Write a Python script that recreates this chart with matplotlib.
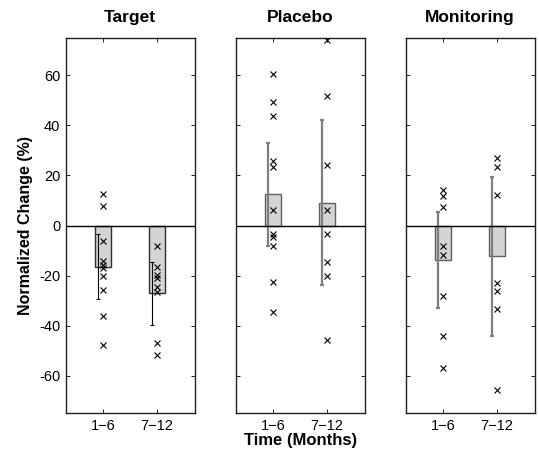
import matplotlib
matplotlib.use("Agg")
import matplotlib.pyplot as plt

plt.rcParams['font.family'] = ['Liberation Sans', 'DejaVu Sans']

groups = ["Target", "Placebo", "Monitoring"]
periods = ["1\u22126", "7\u221212"]

# individual normalized changes (%)
target_1_6 = [12.7, 7.8, -6.1, -14.2, -15.6, -17.1, -20.2, -25.8, -36.0, -47.6]
target_7_12 = [-8.0, -16.4, -19.7, -21.1, -24.6, -26.5, -46.8, -51.6]
placebo_1_6 = [60.6, 49.5, 43.7, 25.9, 23.5, 6.0, -3.5, -4.5, -8.0, -22.6, -34.4]
placebo_7_12 = [74.1, 51.7, 24.2, 6.0, -3.3, -14.4, -20.2, -45.6]
monitoring_1_6 = [14.2, 11.6, 7.5, -8.3, -11.9, -28.2, -44.1, -57.1]
monitoring_7_12 = [27.0, 23.4, 12.2, -23.1, -26.1, -33.3, -65.6]

# bar means and error half-widths
bar_means = {
    "Target": [-16.4, -27.0],
    "Placebo": [12.4, 9.1],
    "Monitoring": [-13.9, -12.3],
}
err_half = {
    "Target": [13.1, 12.6],
    "Placebo": [20.7, 33.0],
    "Monitoring": [19.1, 31.7],
}
points = {
    "Target": [target_1_6, target_7_12],
    "Placebo": [placebo_1_6, placebo_7_12],
    "Monitoring": [monitoring_1_6, monitoring_7_12],
}
yticks = [-60, -40, -20, 0, 20, 40, 60]

W, H = 539, 454
fig = plt.figure(figsize=(W / 100, H / 100), dpi=100)
lefts = [65.7, 235.7, 405.7]
pw = 129.0
top, bottom = 37.7, 413.3

for i, g in enumerate(groups):
    ax = fig.add_axes([lefts[i] / W, (H - bottom) / H, pw / W, (bottom - top) / H])
    xs = [1, 2]
    ax.bar(xs, bar_means[g], width=0.3, color="#d4d4d4",
           edgecolor="#303030" if i == 0 else "#606060", linewidth=1.0, zorder=2)
    ecol = "black" if i == 0 else "#7f7f7f"
    elw = 0.8 if i == 0 else 1.6
    ax.errorbar([x - 0.1 for x in xs], bar_means[g], yerr=err_half[g], fmt="none",
                ecolor=ecol, elinewidth=elw, capsize=1.2, capthick=elw, zorder=3)
    for x, pts in zip(xs, points[g]):
        ax.plot([x] * len(pts), pts, linestyle="none", marker="x", color="black",
                markersize=4.3, markeredgewidth=0.8, zorder=4)
    ax.axhline(0, color="black", linewidth=1.0, zorder=3)
    ax.set_xlim(0.3, 2.7)
    ax.set_ylim(-75, 75)
    ax.set_xticks(xs)
    ax.set_xticklabels(periods, fontsize=10.5)
    ax.set_yticks(yticks)
    ax.tick_params(direction="in", length=3, width=0.6, top=True, right=True, pad=4)
    if i == 0:
        ax.set_yticklabels([str(t) for t in yticks], fontsize=10.5)
        ax.set_ylabel("Normalized Change (%)", fontsize=11.5, fontweight="bold", labelpad=4)
    else:
        ax.set_yticklabels([])
    if i == 1:
        ax.set_xlabel("Time (Months)", fontsize=12, fontweight="bold", labelpad=0)
    ax.set_title(g, fontsize=12.5, fontweight="bold", pad=11)
    for s in ax.spines.values():
        s.set_linewidth(1.0)
        s.set_color("#202020")

fig.savefig("out.png", dpi=100)
